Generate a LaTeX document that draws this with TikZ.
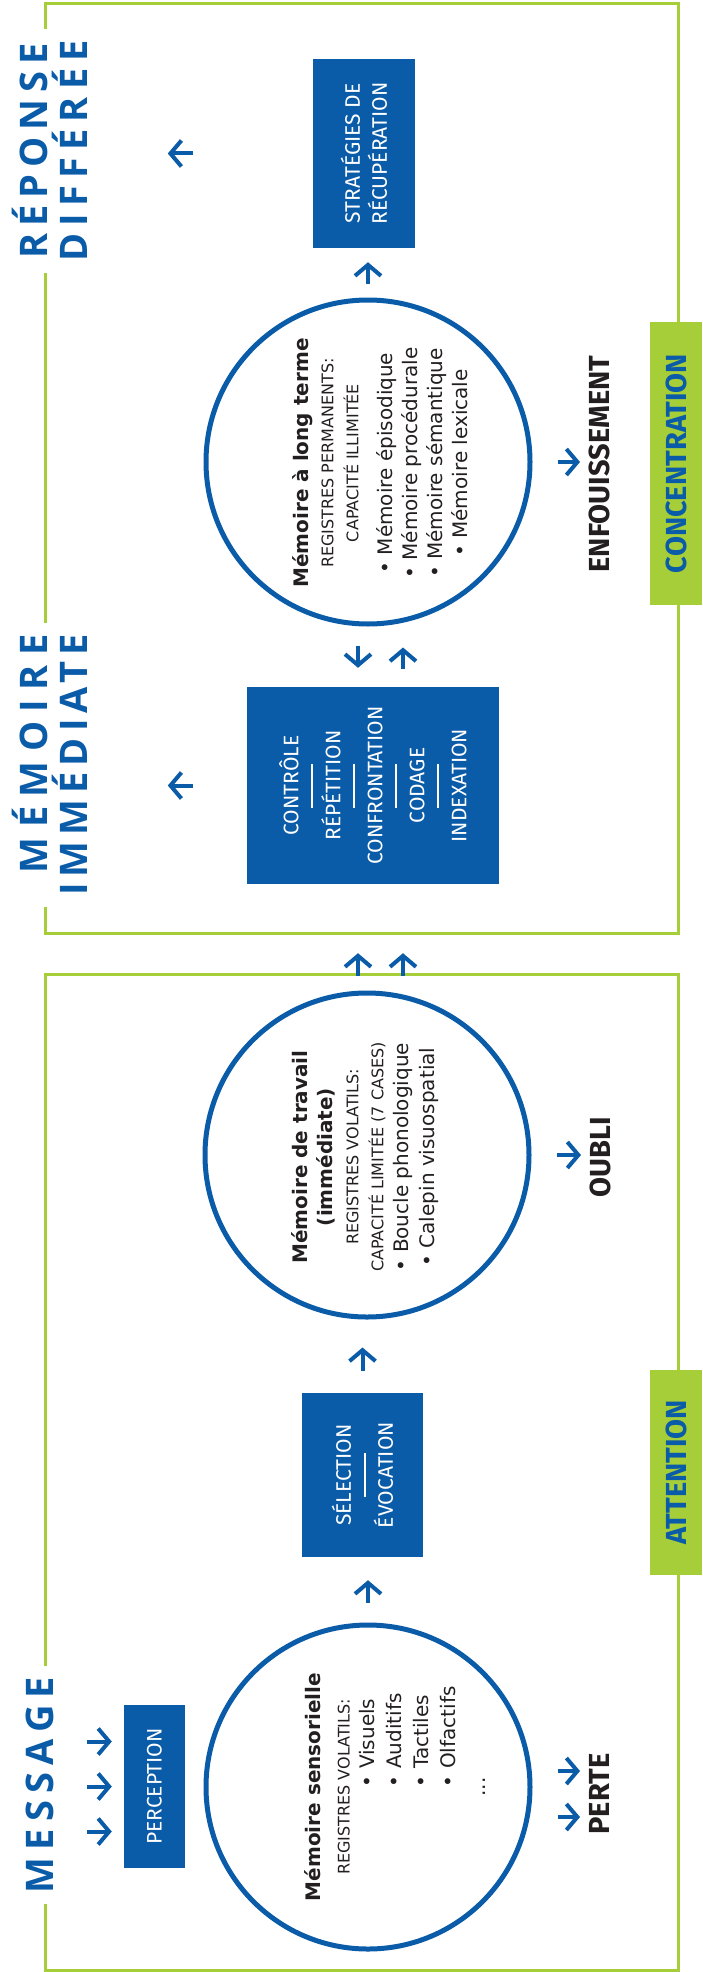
\documentclass[tikz,border=0pt]{standalone}
\usepackage{fontspec}
\setmainfont{DejaVu Sans}
\newfontfamily\fira{Fira Sans}
\newfontfamily\lblfont{Open Sans}
\usetikzlibrary{arrows.meta, positioning, calc}
\definecolor{cblue}{HTML}{0A5BA8}
\definecolor{leaf}{HTML}{A6CE39}
\definecolor{ink}{HTML}{231F20}

\newcommand\sepbar{\rule[6pt]{44pt}{2pt}}
\newcommand\capsize{\fontsize{16}{25}\selectfont}
\newcommand\spaced[2]{{\addfontfeature{LetterSpace=#1}#2}}
\newlength\bulletw

\begin{document}
\begin{tikzpicture}[x=1pt, y=-1pt, >={Straight Barb[length=11pt, width=26pt]}]
\tikzset{
  frame/.style={draw=leaf, line width=3pt},
  mem/.style={circle, draw=cblue, line width=5pt, minimum size=324pt, inner sep=0pt},
  memtext/.style={rotate=90, align=center, text=ink, inner sep=0pt, font=\fontsize{20}{25}\selectfont},
  procbox/.style={rectangle, fill=cblue, text=white, rotate=90, inner sep=0pt, align=center, font=\fira\fontsize{21}{21}\selectfont},
  sidelbl/.style={rotate=90, fill=white, text=cblue, inner sep=11pt, font=\lblfont\bfseries\fontsize{38}{40}\selectfont},
  outlbl/.style={rotate=90, anchor=north, inner sep=0pt, text=ink, font=\fira\bfseries\fontsize{29}{30}\selectfont},
  tag/.style={rotate=90, fill=leaf, text=cblue, minimum height=52pt, inner sep=0pt, font=\fira\bfseries\fontsize{29}{30}\selectfont},
  arr/.style={->, draw=cblue, line width=4pt},
}
\useasboundingbox (0,0) rectangle (702,1972);

% Frames
\draw[frame] (45,4) rectangle (678,933);
\draw[frame] (45,974) rectangle (678,1970);

% Side labels
\node[sidelbl, align=center] (rep) at (50,151) {\spaced{18}{RÉPONSE}\\\spaced{19}{DIFFÉRÉE}};
\node[sidelbl, align=right] (memi) at (50,765) {\spaced{25}{MÉMOIRE}\\\spaced{16}{IMMÉDIATE}};
\node[sidelbl] (msg) at (40,1785) {\spaced{19}{MESSAGE}};

% Tags on the right
\node[tag, minimum width=283pt] (conc) at (676,463.5) {CONCENTRATION};
\node[tag, minimum width=205pt] (attn) at (676,1472.5) {ATTENTION};

% Memory circles
\node[mem] (ltm) at (368,462) {};
\node[mem] (wm) at (367,1155) {};
\node[mem] (sm) at (368,1787) {};

\node[memtext] (ltmtxt) at (380,463) {\textbf{Mémoire à long terme}\\
  {\capsize REGISTRES PERMANENTS:}\\
  {\capsize CAPACITÉ ILLIMITÉE}\\[9pt]
  • Mémoire épisodique\\
  • Mémoire procédurale\\
  • Mémoire sémantique\\
  • Mémoire lexicale};
\node[memtext] (wmtxt) at (365,1157) {\textbf{Mémoire de travail}\\
  \textbf{(immédiate)}\\[1pt]
  {\capsize REGISTRES VOLATILS:}\\
  {\capsize CAPACITÉ LIMITÉE (7 CASES)}\\
  • Boucle phonologique\\[1pt]
  • Calepin visuospatial};
\node[memtext] (smtxt) at (395,1787) {\settowidth\bulletw{• Olfactifs}%
  \textbf{Mémoire sensorielle}\\[4pt]
  {\capsize REGISTRES VOLATILS:}\\
  \makebox[\bulletw][l]{• Visuels}\\[2pt]
  \makebox[\bulletw][l]{• Auditifs}\\[2pt]
  \makebox[\bulletw][l]{• Tactiles}\\[2pt]
  \makebox[\bulletw][l]{• Olfactifs}\\[5pt]
  ...};

% Process boxes
\node[procbox, minimum width=189pt, minimum height=102pt] (strat) at (364,153.5) {STRATÉGIES DE\\[6pt]RÉCUPÉRATION};
\node[procbox, minimum width=197pt, minimum height=252pt] (ctrl) at (373,785.5)
  {CONTRÔLE\\\sepbar\\RÉPÉTITION\\\sepbar\\CONFRONTATION\\\sepbar\\CODAGE\\\sepbar\\INDEXATION};
\node[procbox, minimum width=164pt, minimum height=121pt] (sel) at (362.5,1475) {SÉLECTION\\\sepbar\\ÉVOCATION};
\node[procbox, minimum width=163pt, minimum height=61pt] (perc) at (154.5,1786.5) {PERCEPTION};

% Outcomes
\node[outlbl] (enf) at (589,464) {ENFOUISSEMENT};
\node[outlbl] (oubli) at (590,1157) {OUBLI};
\node[outlbl] (perte) at (589,1794) {PERTE};

% Arrows
\draw[arr, shorten <=14pt, shorten >=14pt] (ltm.north) -- (ltm.north |- strat.west);
\coordinate (ltmL) at ($(ltm.south)+(-10,0)$);
\coordinate (ltmR) at ($(ltm.south)+(35,0)$);
\draw[arr, shorten <=19pt, shorten >=19pt] (ltmL) -- (ltmL |- ctrl.east);
\draw[arr, shorten <=18pt, shorten >=21pt] (ltmR |- ctrl.east) -- (ltmR);
\coordinate (wmL) at ($(wm.north)+(-9,0)$);
\coordinate (wmR) at ($(wm.north)+(36,0)$);
\foreach \c in {wmL,wmR}
  \draw[arr, shorten <=15pt, shorten >=69pt] (\c) -- (\c |- ctrl.west);
\draw[arr, shorten <=22pt, shorten >=28pt] (sel.east) -- (sel.east |- wm.south);
\draw[arr, shorten <=20pt, shorten >=23pt] (sm.north) -- (sm.north |- sel.west);
\draw[arr, shorten <=25pt, shorten >=9pt] (ltm.east) -- (ltm.east -| enf.north);
\draw[arr, shorten <=25pt, shorten >=9pt] (wm.east) -- (wm.east -| oubli.north);
\coordinate (pA) at (sm.east |- perte.north);
\foreach \d in {-23,23}
  \draw[arr, shorten <=25pt, shorten >=9pt] ($(pA)+(0,\d)$) -- ($(perte.north)+(0,\d)$);
\draw[arr, shorten <=120pt] (strat.north) -- ($(strat.north)+(-145,0)$);
\draw[arr, shorten <=54pt] (ctrl.north) -- ($(ctrl.north)+(-79,0)$);
\foreach \d in {-45,0,45}
  \draw[arr, shorten >=12pt] ($(perc.north)+(-37,\d)$) -- ($(perc.north)+(0,\d)$);

\end{tikzpicture}
\end{document}
